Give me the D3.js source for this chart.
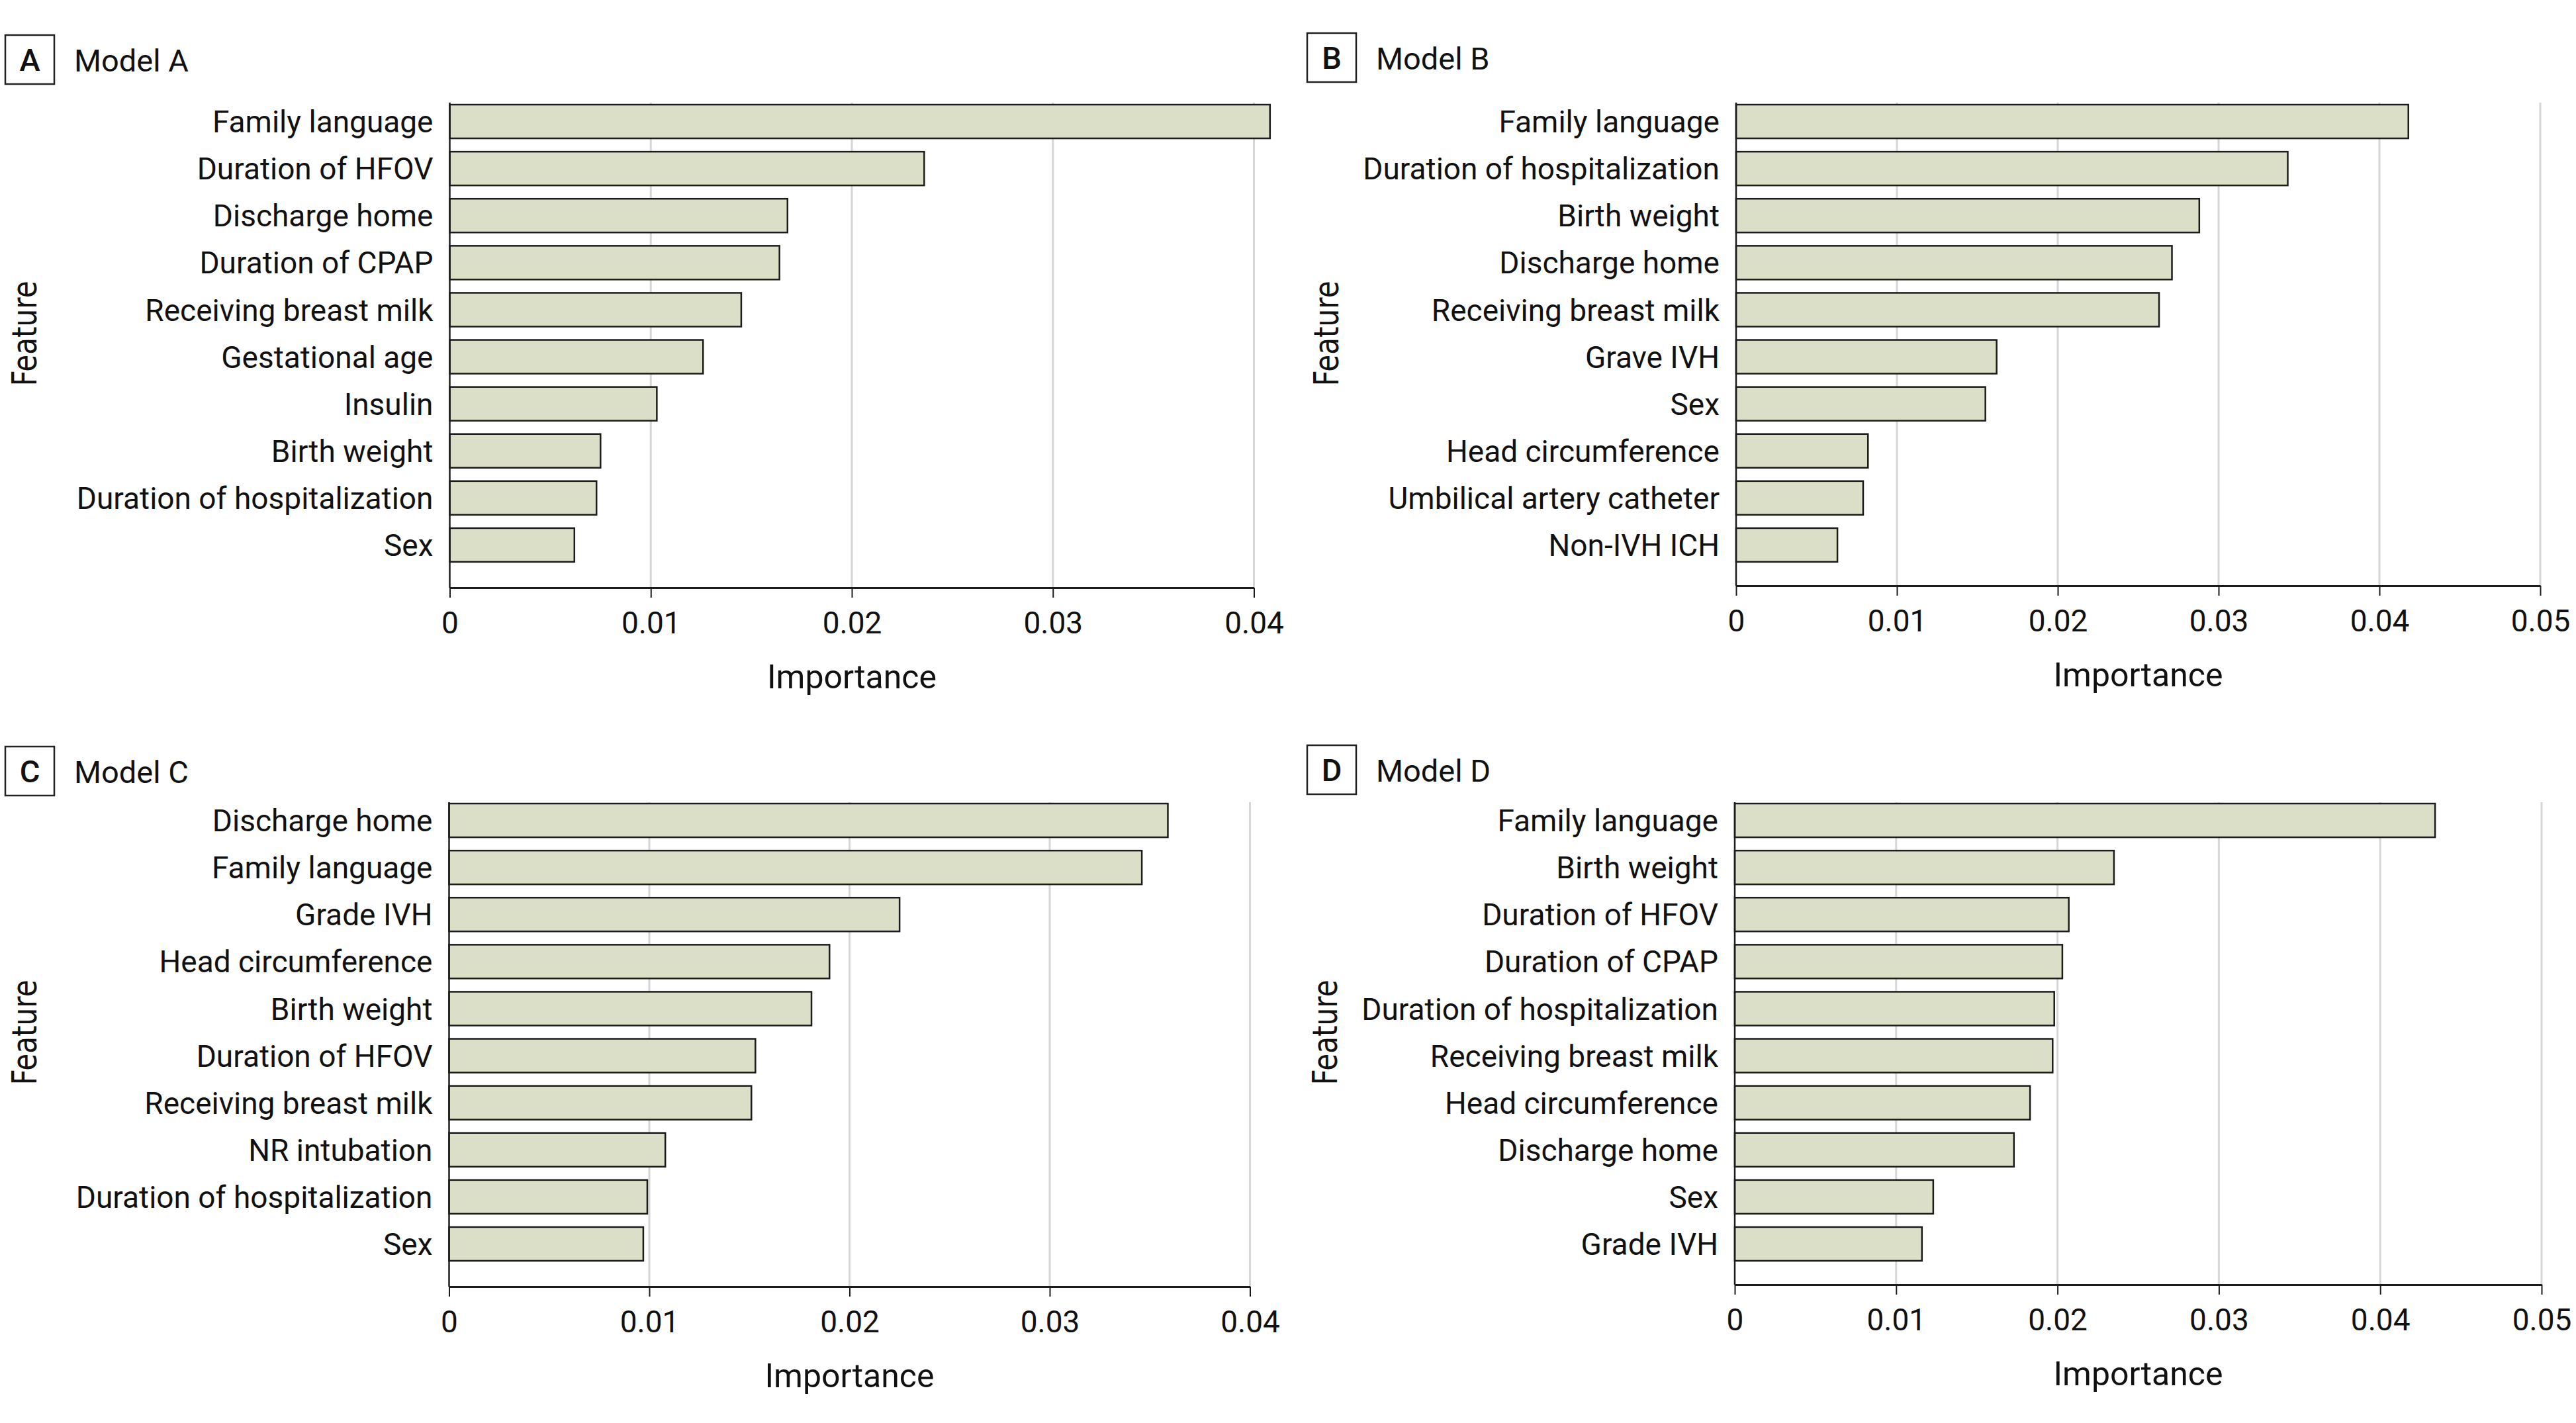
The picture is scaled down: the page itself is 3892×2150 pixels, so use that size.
<!DOCTYPE html>
<html>
<head>
<meta charset="utf-8">
<script src="https://cdn.jsdelivr.net/npm/d3@7.9.0/dist/d3.min.js"></script>
<style>
  html, body { margin: 0; padding: 0; background: #fff; }
  svg { display: block; }
</style>
</head>
<body>
<svg id="chart" width="3892" height="2150"></svg>
<script>
// feature importances
const featuresA = ['Family language', 'Duration of HFOV', 'Discharge home', 'Duration of CPAP',
  'Receiving breast milk', 'Gestational age', 'Insulin', 'Birth weight',
  'Duration of hospitalization', 'Sex'];
const importanceA = [0.0408, 0.0236, 0.0168, 0.0164, 0.0145, 0.0126, 0.0103, 0.0075, 0.0073, 0.0062];

const featuresB = ['Family language', 'Duration of hospitalization', 'Birth weight', 'Discharge home',
  'Receiving breast milk', 'Grave IVH', 'Sex', 'Head circumference',
  'Umbilical artery catheter', 'Non-IVH ICH'];
const importanceB = [0.0418, 0.0343, 0.0288, 0.0271, 0.0263, 0.0162, 0.0155, 0.0082, 0.0079, 0.0063];

const featuresC = ['Discharge home', 'Family language', 'Grade IVH', 'Head circumference',
  'Birth weight', 'Duration of HFOV', 'Receiving breast milk', 'NR intubation',
  'Duration of hospitalization', 'Sex'];
const importanceC = [0.0359, 0.0346, 0.0225, 0.0190, 0.0181, 0.0153, 0.0151, 0.0108, 0.0099, 0.0097];

const featuresD = ['Family language', 'Birth weight', 'Duration of HFOV', 'Duration of CPAP',
  'Duration of hospitalization', 'Receiving breast milk', 'Head circumference',
  'Discharge home', 'Sex', 'Grade IVH'];
const importanceD = [0.0434, 0.0235, 0.0207, 0.0203, 0.0198, 0.0197, 0.0183, 0.0173, 0.0123, 0.0116];

const axisMaxA = 0.04, axisMaxB = 0.05, axisMaxC = 0.04, axisMaxD = 0.05;

const svg = d3.select('#chart');
const labelFont = 'Roboto, "Liberation Sans", sans-serif';

function drawPanel(p) {
  const g = svg.append('g');
  const data = p.features.map((f, i) => ({ feature: f, value: p.values[i] }));

  const x = d3.scaleLinear().domain([0, p.axisMax]).range([p.x0, p.x1]);
  const y = d3.scaleBand()
    .domain(p.features)
    .range([p.bandTop, p.bandTop + 711])
    .paddingInner(0.283)
    .paddingOuter(0.1415);

  const ticks = x.ticks(Math.round(p.axisMax * 100));

  // grid
  g.selectAll('line.grid')
    .data(ticks.filter((d) => d > 0))
    .join('line')
    .attr('class', 'grid')
    .attr('x1', (d) => x(d)).attr('x2', (d) => x(d))
    .attr('y1', p.gridTop).attr('y2', p.axisY)
    .attr('stroke', '#d6d6d6')
    .attr('stroke-width', 3);

  // bars
  g.selectAll('rect.bar')
    .data(data)
    .join('rect')
    .attr('class', 'bar')
    .attr('x', x(0))
    .attr('y', (d) => y(d.feature))
    .attr('width', (d) => x(d.value) - x(0))
    .attr('height', y.bandwidth())
    .attr('fill', '#dbdfc8')
    .attr('stroke', '#1c1c1c')
    .attr('stroke-width', 2.5);

  // left axis line
  g.append('line')
    .attr('x1', x(0)).attr('x2', x(0))
    .attr('y1', p.gridTop).attr('y2', p.axisY)
    .attr('stroke', '#1c1c1c')
    .attr('stroke-width', 2.5);

  // feature labels
  g.selectAll('text.feat')
    .data(data)
    .join('text')
    .attr('class', 'feat')
    .attr('x', x(0) - 25)
    .attr('y', (d) => y(d.feature) + y.bandwidth() / 2)
    .attr('dy', '0.36em')
    .attr('text-anchor', 'end')
    .attr('font-family', labelFont)
    .attr('font-size', 46)
    .attr('fill', '#111')
    .text((d) => d.feature);

  // x axis
  const axis = g.append('g')
    .attr('transform', `translate(0,${p.axisY})`)
    .call(d3.axisBottom(x)
      .tickValues(ticks)
      .tickSize(15)
      .tickSizeOuter(0)
      .tickFormat((d) => (d === 0 ? '0' : d3.format('.2f')(d))));
  axis.select('.domain').attr('stroke', '#1c1c1c').attr('stroke-width', 3);
  axis.selectAll('.tick line').attr('stroke', '#1c1c1c').attr('stroke-width', 2);
  axis.selectAll('.tick text')
    .attr('y', 69)
    .attr('dy', 0)
    .attr('fill', '#111')
    .attr('font-family', labelFont)
    .attr('font-size', 46);

  g.append('text')
    .attr('x', (p.x0 + p.x1) / 2)
    .attr('y', p.axisY + 152)
    .attr('text-anchor', 'middle')
    .attr('font-family', labelFont)
    .attr('font-size', 50)
    .attr('fill', '#111')
    .text('Importance');

  // y axis title
  g.append('text')
    .attr('transform', `translate(${p.featX},${y.range()[0] + 356}) rotate(-90) scale(0.81,1)`)
    .attr('text-anchor', 'middle')
    .attr('font-family', '"DejaVu Sans", sans-serif')
    .attr('font-size', 52)
    .attr('fill', '#111')
    .text('Feature');

  // panel letter box + title
  g.append('rect')
    .attr('x', p.boxX).attr('y', p.boxY)
    .attr('width', 74).attr('height', 74)
    .attr('fill', 'none')
    .attr('stroke', '#222')
    .attr('stroke-width', 2.5);
  g.append('text')
    .attr('x', p.boxX + 37).attr('y', p.boxY + 54)
    .attr('text-anchor', 'middle')
    .attr('font-family', labelFont)
    .attr('font-weight', 500)
    .attr('font-size', 47)
    .attr('fill', '#111')
    .text(p.letter);
  g.append('text')
    .attr('x', p.boxX + 104).attr('y', p.boxY + 55)
    .attr('font-family', labelFont)
    .attr('font-size', 47)
    .attr('fill', '#111')
    .text(p.title);
}

drawPanel({ features: featuresA, values: importanceA, axisMax: axisMaxA,
  x0: 679.5, x1: 1894.5, bandTop: 148, gridTop: 155, axisY: 888,
  featX: 55, boxX: 8, boxY: 53, letter: 'A', title: 'Model A' });

drawPanel({ features: featuresB, values: importanceB, axisMax: axisMaxB,
  x0: 2623, x1: 3838, bandTop: 148, gridTop: 155, axisY: 885,
  featX: 2022, boxX: 1975, boxY: 50, letter: 'B', title: 'Model B' });

drawPanel({ features: featuresC, values: importanceC, axisMax: axisMaxC,
  x0: 678.5, x1: 1888.5, bandTop: 1204, gridTop: 1212, axisY: 1944,
  featX: 55, boxX: 8, boxY: 1128, letter: 'C', title: 'Model C' });

drawPanel({ features: featuresD, values: importanceD, axisMax: axisMaxD,
  x0: 2621, x1: 3840, bandTop: 1204, gridTop: 1212, axisY: 1941,
  featX: 2020, boxX: 1975, boxY: 1126, letter: 'D', title: 'Model D' });
</script>
</body>
</html>
